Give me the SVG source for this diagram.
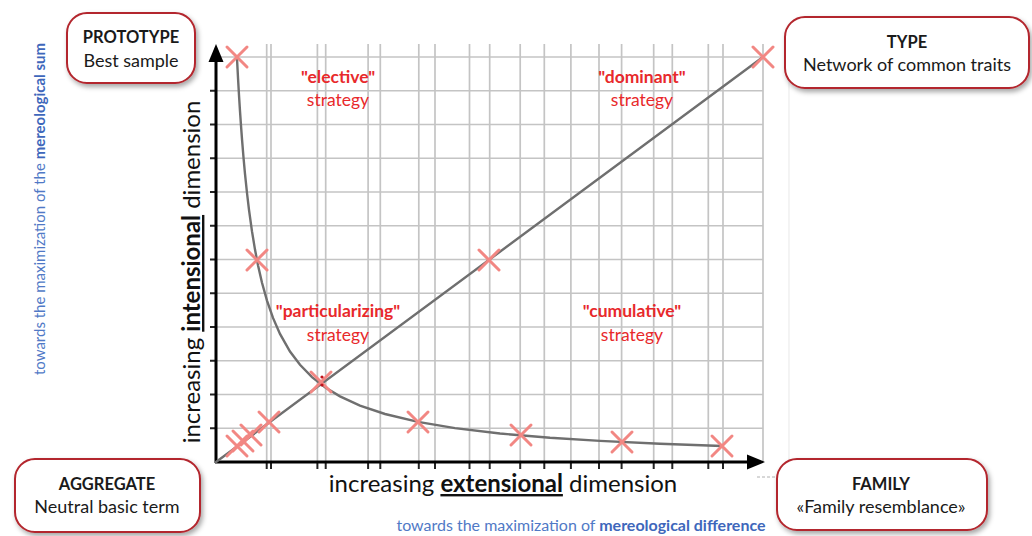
<svg xmlns="http://www.w3.org/2000/svg" width="1032" height="536" viewBox="0 0 1032 536">
  <style>
    .grid line { stroke: #c4c4c4; stroke-width: 1.7; }
    .tick { stroke: #222; stroke-width: 2; }
    .axis { stroke: #000; stroke-width: 3; fill: none; }
    .curve { stroke: #6f6f6f; stroke-width: 2.4; fill: none; stroke-linecap: round; }
    .mark { stroke: #f28783; stroke-width: 3; stroke-linecap: round; }
    .box { fill: #fff; stroke: #b3262d; stroke-width: 2; }
    .ttl { font-family: Lato, "Open Sans", sans-serif; font-weight: bold; font-size: 16.5px; fill: #1a1a1a; text-anchor: middle; }
    .sub { font-family: Lato, "Open Sans", sans-serif; font-size: 18px; fill: #1a1a1a; text-anchor: middle; }
    .strat { font-family: Lato, "Open Sans", sans-serif; font-size: 17.5px; fill: #e8292b; text-anchor: middle; }
    .axlbl { font-family: Lato, "Open Sans", sans-serif; font-size: 24px; fill: #111; text-anchor: middle; }
    .blue { font-family: Lato, "Open Sans", sans-serif; font-size: 15.5px; fill: #5079c6; text-anchor: middle; }
  </style>
  <defs>
    <filter id="shadow" x="-20%" y="-30%" width="140%" height="170%">
      <feDropShadow dx="2" dy="3" stdDeviation="2.5" flood-color="#000" flood-opacity="0.35"/>
    </filter>
  </defs>

  <!-- faint page edge -->
  <line x1="789" y1="40" x2="789" y2="478" stroke="#ececec" stroke-width="1.2"/>
  <line x1="757" y1="477" x2="777" y2="477" stroke="#b0b0b0" stroke-width="1" stroke-dasharray="3 2"/>

  <!-- background grid -->
  <g id="grid" class="grid">
    <line x1="216" y1="57" x2="763" y2="57"/>
    <line x1="216" y1="90.75" x2="763" y2="90.75"/>
    <line x1="216" y1="124.5" x2="763" y2="124.5"/>
    <line x1="216" y1="158.25" x2="763" y2="158.25"/>
    <line x1="216" y1="192" x2="763" y2="192"/>
    <line x1="216" y1="225.75" x2="763" y2="225.75"/>
    <line x1="216" y1="259.5" x2="763" y2="259.5"/>
    <line x1="216" y1="293.25" x2="763" y2="293.25"/>
    <line x1="216" y1="327" x2="763" y2="327"/>
    <line x1="216" y1="360.75" x2="763" y2="360.75"/>
    <line x1="216" y1="394.5" x2="763" y2="394.5"/>
    <line x1="216" y1="428.25" x2="763" y2="428.25"/>
    <!-- first set of verticals -->
    <line x1="266.7" y1="44" x2="266.7" y2="462"/>
    <line x1="317.4" y1="44" x2="317.4" y2="462"/>
    <line x1="368.1" y1="44" x2="368.1" y2="462"/>
    <line x1="418.8" y1="44" x2="418.8" y2="462"/>
    <line x1="469.5" y1="44" x2="469.5" y2="462"/>
    <line x1="520.2" y1="44" x2="520.2" y2="462"/>
    <line x1="570.9" y1="44" x2="570.9" y2="462"/>
    <line x1="621.6" y1="44" x2="621.6" y2="462"/>
    <line x1="672.3" y1="44" x2="672.3" y2="462"/>
    <line x1="723" y1="44" x2="723" y2="462"/>
    <!-- second set of verticals -->
    <line x1="271" y1="44" x2="271" y2="462"/>
    <line x1="325.7" y1="44" x2="325.7" y2="462"/>
    <line x1="380.3" y1="44" x2="380.3" y2="462"/>
    <line x1="435" y1="44" x2="435" y2="462"/>
    <line x1="489.7" y1="44" x2="489.7" y2="462"/>
    <line x1="544.3" y1="44" x2="544.3" y2="462"/>
    <line x1="599" y1="44" x2="599" y2="462"/>
    <line x1="653.7" y1="44" x2="653.7" y2="462"/>
    <line x1="708.3" y1="44" x2="708.3" y2="462"/>
    <line x1="763" y1="44" x2="763" y2="462"/>
  </g>

  <!-- axes with ticks -->
  <g id="axes">
    <g class="tick">
      <line x1="210" y1="90.75" x2="216" y2="90.75"/>
      <line x1="210" y1="124.5" x2="216" y2="124.5"/>
      <line x1="210" y1="158.25" x2="216" y2="158.25"/>
      <line x1="210" y1="192" x2="216" y2="192"/>
      <line x1="210" y1="225.75" x2="216" y2="225.75"/>
      <line x1="210" y1="259.5" x2="216" y2="259.5"/>
      <line x1="210" y1="293.25" x2="216" y2="293.25"/>
      <line x1="210" y1="327" x2="216" y2="327"/>
      <line x1="210" y1="360.75" x2="216" y2="360.75"/>
      <line x1="210" y1="394.5" x2="216" y2="394.5"/>
      <line x1="210" y1="428.25" x2="216" y2="428.25"/>
      <line x1="266.7" y1="462" x2="266.7" y2="469"/>
      <line x1="317.4" y1="462" x2="317.4" y2="469"/>
      <line x1="368.1" y1="462" x2="368.1" y2="469"/>
      <line x1="418.8" y1="462" x2="418.8" y2="469"/>
      <line x1="469.5" y1="462" x2="469.5" y2="469"/>
      <line x1="520.2" y1="462" x2="520.2" y2="469"/>
      <line x1="570.9" y1="462" x2="570.9" y2="469"/>
      <line x1="621.6" y1="462" x2="621.6" y2="469"/>
      <line x1="672.3" y1="462" x2="672.3" y2="469"/>
      <line x1="723" y1="462" x2="723" y2="469"/>
      <line x1="271" y1="462" x2="271" y2="469"/>
      <line x1="325.7" y1="462" x2="325.7" y2="469"/>
      <line x1="380.3" y1="462" x2="380.3" y2="469"/>
      <line x1="435" y1="462" x2="435" y2="469"/>
      <line x1="489.7" y1="462" x2="489.7" y2="469"/>
      <line x1="544.3" y1="462" x2="544.3" y2="469"/>
      <line x1="599" y1="462" x2="599" y2="469"/>
      <line x1="653.7" y1="462" x2="653.7" y2="469"/>
      <line x1="708.3" y1="462" x2="708.3" y2="469"/>
    </g>
    <path class="axis" d="M216 463 V58"/>
    <path class="axis" d="M215 462 H750"/>
    <polygon points="216,44 208.5,62 223.5,62" fill="#000"/>
    <polygon points="765,462 747,454.5 747,469.5" fill="#000"/>
  </g>

  <!-- connectors: the two curves -->
  <g id="connectors">
    <path id="hyperbola" class="curve" d="M237 58.5 L238 77.7 L239 95.2 L240 111.1 L241 125.7 L242 139.2 L243.5 157.5 L245 173.8 L247 193 L249 209.8 L252 231.4 L255 249.6 L258 265.2 L262 282.7 L267 300.6 L273 317.9 L280 333.9 L290 351.5 L300 364.8 L312 377.1 L325 387.3 L340 396.4 L360 405.6 L385 414 L418 421.9 L455 428.1 L500 433.5 L550 437.8 L600 440.9 L660 443.8 L722 446"/>
    <path id="diagonal" class="curve" d="M216 462 L763 57"/>
  </g>

  <!-- sample marks -->
  <g id="marks" class="mark">
    <path d="M227 47 L247 67 M247 47 L227 67"/>
    <path d="M753 47 L773 67 M773 47 L753 67"/>
    <path d="M247 250 L267 270 M267 250 L247 270"/>
    <path d="M479 250 L499 270 M499 250 L479 270"/>
    <path d="M311 372 L331 392 M331 372 L311 392"/>
    <path d="M408 412 L428 432 M428 412 L408 432"/>
    <path d="M259 412 L279 432 M279 412 L259 432"/>
    <path d="M241 425 L261 445 M261 425 L241 445"/>
    <path d="M233 431 L253 451 M253 431 L233 451"/>
    <path d="M227 436 L247 456 M247 436 L227 456"/>
    <path d="M511 425 L531 445 M531 425 L511 445"/>
    <path d="M612 432 L632 452 M632 432 L612 452"/>
    <path d="M712 436 L732 456 M732 436 L712 456"/>
  </g>
  <circle cx="322" cy="377" r="1.6" fill="#c0121a"/>
  <circle cx="322" cy="385" r="1.6" fill="#c0121a"/>

  <!-- strategy labels -->
  <g id="elective">
    <text class="strat" x="338" y="83" font-weight="bold">"elective"</text>
    <text class="strat" x="338" y="106">strategy</text>
  </g>
  <g id="dominant">
    <text class="strat" x="642" y="83" font-weight="bold">"dominant"</text>
    <text class="strat" x="642" y="106">strategy</text>
  </g>
  <g id="particularizing">
    <text class="strat" x="338" y="317" font-weight="bold">"particularizing"</text>
    <text class="strat" x="338" y="341">strategy</text>
  </g>
  <g id="cumulative">
    <text class="strat" x="632" y="317" font-weight="bold">"cumulative"</text>
    <text class="strat" x="632" y="341">strategy</text>
  </g>

  <!-- axis titles -->
  <text class="axlbl" transform="translate(200,272) rotate(-90)">increasing <tspan font-weight="bold" text-decoration="underline">intensional</tspan> dimension</text>
  <text class="axlbl" x="503" y="492">increasing <tspan font-weight="bold" text-decoration="underline">extensional</tspan> dimension</text>
  <text class="blue" transform="translate(45,209) rotate(-90)" textLength="332" lengthAdjust="spacingAndGlyphs">towards the maximization of the <tspan font-weight="bold" fill="#3e67bb">mereological sum</tspan></text>
  <text class="blue" x="581" y="531" textLength="369" lengthAdjust="spacingAndGlyphs">towards the maximization of <tspan font-weight="bold" fill="#3e67bb">mereological difference</tspan></text>

  <!-- corner nodes -->
  <g id="prototype">
    <rect class="box" x="67" y="13" width="128" height="70" rx="20" filter="url(#shadow)"/>
    <text class="ttl" x="131" y="43">PROTOTYPE</text>
    <text class="sub" x="131" y="67">Best sample</text>
  </g>
  <g id="type">
    <rect class="box" x="785" y="17" width="244" height="71" rx="20" filter="url(#shadow)"/>
    <text class="ttl" x="907" y="48">TYPE</text>
    <text class="sub" x="907" y="71">Network of common traits</text>
  </g>
  <g id="aggregate">
    <rect class="box" x="15" y="459" width="185" height="73" rx="20" filter="url(#shadow)"/>
    <text class="ttl" x="107" y="490">AGGREGATE</text>
    <text class="sub" x="107" y="513">Neutral basic term</text>
  </g>
  <g id="family">
    <rect class="box" x="777" y="459" width="210" height="71" rx="20" filter="url(#shadow)"/>
    <text class="ttl" x="881" y="490">FAMILY</text>
    <text class="sub" x="881" y="513">«Family resemblance»</text>
  </g>
</svg>
